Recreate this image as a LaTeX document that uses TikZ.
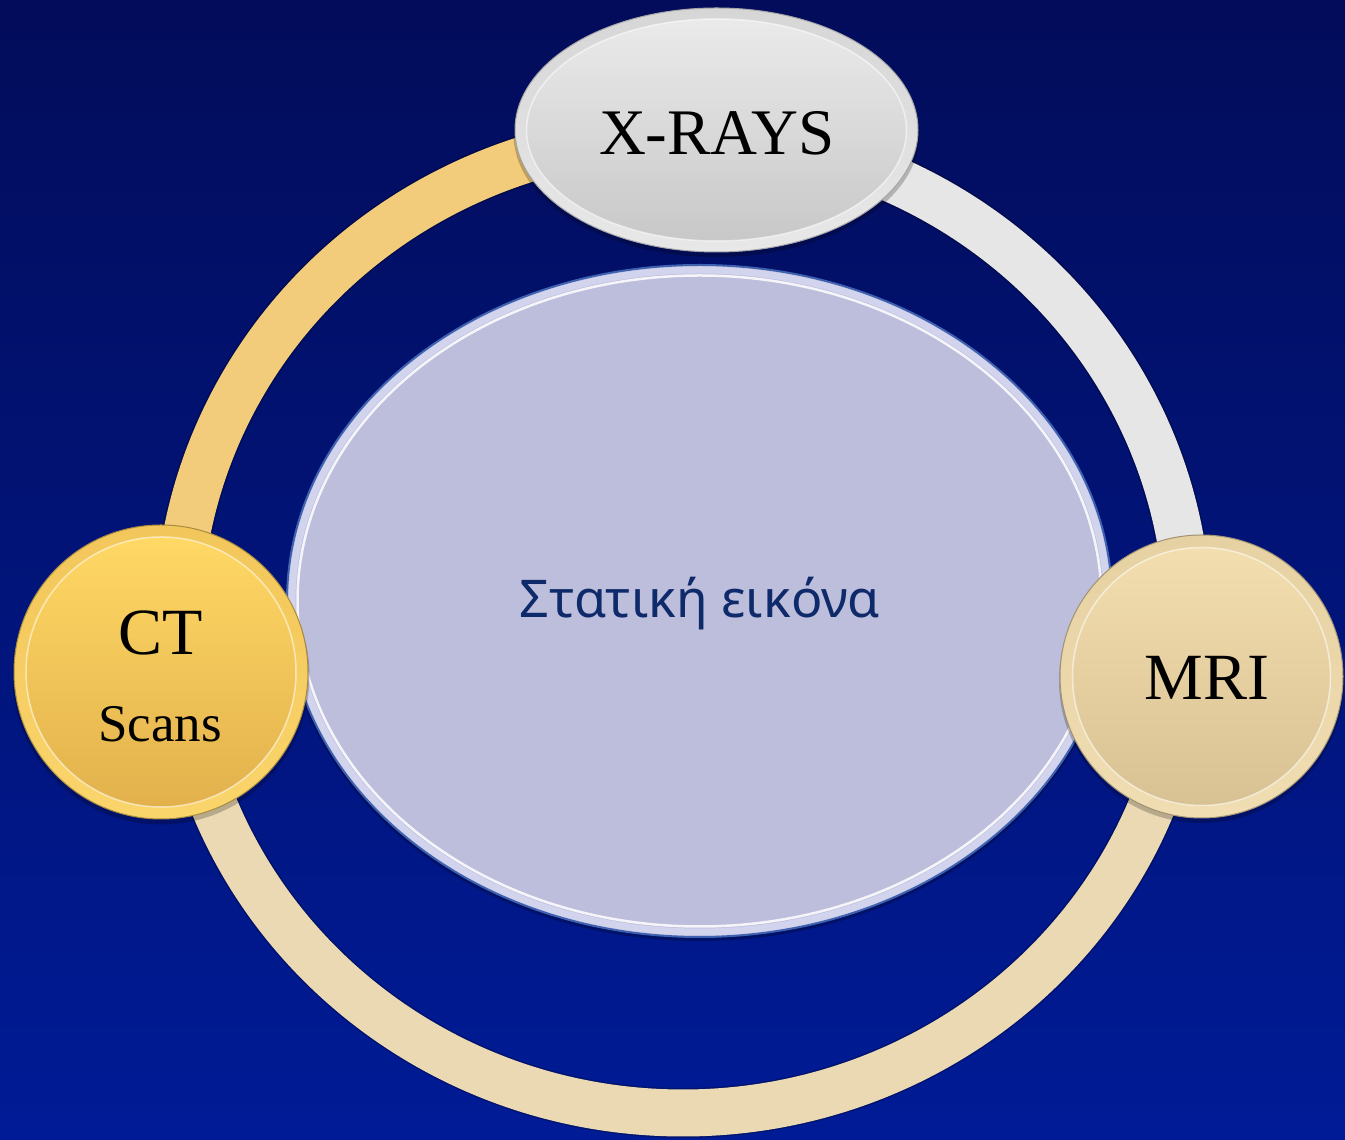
\documentclass[tikz,border=0pt]{standalone}
\usepackage{fontspec}
\setmainfont{Liberation Serif}
\newfontfamily\grfont{Noto Sans}
\usetikzlibrary{shapes.geometric}
\definecolor{bgtop}{HTML}{020C5A}
\definecolor{bgbot}{HTML}{001B96}
\definecolor{ringor}{HTML}{F2CC7A}
\definecolor{ringgy}{HTML}{E6E6E6}
\definecolor{ringbg}{HTML}{EBD9B4}
\definecolor{lav}{HTML}{BCBEDC}
\definecolor{lavlt}{HTML}{D2D4EE}
\definecolor{edgeblue}{HTML}{3F62B0}
\definecolor{txtblue}{HTML}{0E2A6A}
\definecolor{ctin1}{HTML}{FFD865}
\definecolor{ctin2}{HTML}{E2B14C}
\definecolor{ctout1}{HTML}{F2C65A}
\definecolor{ctout2}{HTML}{FAD56B}
\definecolor{mrin1}{HTML}{F3DEAF}
\definecolor{mrin2}{HTML}{D8C192}
\definecolor{mrout1}{HTML}{E6D1A2}
\definecolor{mrout2}{HTML}{F0DDB2}
\definecolor{xin1}{HTML}{EAEAEA}
\definecolor{xin2}{HTML}{C8C8C8}
\definecolor{xout1}{HTML}{D6D6D6}
\definecolor{xout2}{HTML}{E8E8E8}
\tikzset{
  ringseg/.style={line width=47pt},
  ringedge/.style={line width=50pt, black, opacity=.25},
  lbl/.style={anchor=base, inner sep=0, text=black},
  hilite/.style={draw=white, line width=1.5pt, opacity=.55}
}
\begin{document}
\begin{tikzpicture}[x=1pt,y=1pt]
\useasboundingbox (0,0) rectangle (1345,1140);
\shade[top color=bgtop, bottom color=bgbot] (0,0) rectangle (1345,1140);
\coordinate (ringc) at (683,516);
% ring edges (subtle shadow)
\draw[ringedge] (ringc) ++(88:505 and 489) arc[start angle=88, end angle=185, x radius=505, y radius=489];
\draw[ringedge] (ringc) ++(-8:505 and 489) arc[start angle=-8, end angle=92, x radius=505, y radius=489];
\draw[ringedge] (ringc) ++(180:505 and 489) arc[start angle=180, end angle=355, x radius=505, y radius=489];
% ring segments
\draw[ringseg, ringor] (ringc) ++(88:505 and 489) arc[start angle=88, end angle=185, x radius=505, y radius=489];
\draw[ringseg, ringgy] (ringc) ++(-8:505 and 489) arc[start angle=-8, end angle=92, x radius=505, y radius=489];
\draw[ringseg, ringbg] (ringc) ++(180:505 and 489) arc[start angle=180, end angle=355, x radius=505, y radius=489];
% central ellipse
\fill[black, opacity=.25] (699.5,536) ellipse[x radius=414, y radius=337];
\node[ellipse, inner sep=0, minimum width=825pt, minimum height=672pt, fill=lav, draw=edgeblue, line width=2pt] (mid) at (699.5,539) {};
\draw[lavlt, line width=7pt] (mid.center) ellipse[x radius=407.5, y radius=331];
\draw[white, line width=2.5pt, opacity=.85] (mid.center) ellipse[x radius=402, y radius=325.5];
\node[lbl, text=txtblue, font=\grfont\fontsize{52}{60}\selectfont] (midtext) at (700,522) {Στατική εικόνα};
% X-RAYS
\fill[black, opacity=.22] (716.5,1006) ellipse[x radius=203, y radius=123];
\node[ellipse, inner sep=0, minimum width=403pt, minimum height=244pt, top color=xout1, bottom color=xout2, draw=black!35, line width=1pt] (xray) at (716.5,1010) {};
\shade[top color=xin1, bottom color=xin2] (xray.center) ellipse[x radius=190, y radius=111];
\draw[hilite] (xray.center) ellipse[x radius=190, y radius=111];
\node[lbl, font=\fontsize{65}{72}\selectfont] (xtext) at (717,985) {X-RAYS};
% CT
\fill[black, opacity=.22] (161,464) circle[radius=148.5];
\node[circle, inner sep=0, minimum size=294pt, top color=ctout1, bottom color=ctout2, draw=black!30!ctout1, line width=1pt] (ct) at (161,468) {};
\shade[top color=ctin1, bottom color=ctin2] (ct.center) circle[radius=135];
\draw[hilite] (ct.center) circle[radius=135];
\node[lbl, font=\fontsize{66}{72}\selectfont] (cttext) at (161,485) {CT};
\node[lbl, font=\fontsize{53}{60}\selectfont] (scantext) at (160,398) {Scans};
% MRI
\fill[black, opacity=.22] (1201.5,459.5) circle[radius=142.5];
\node[circle, inner sep=0, minimum size=283pt, top color=mrout1, bottom color=mrout2, draw=black!30!mrout1, line width=1pt] (mri) at (1201.5,463.5) {};
\shade[top color=mrin1, bottom color=mrin2] (mri.center) circle[radius=129];
\draw[hilite] (mri.center) circle[radius=129];
\node[lbl, font=\fontsize{66}{72}\selectfont] (mritext) at (1207,440) {MRI};
\end{tikzpicture}
\end{document}
